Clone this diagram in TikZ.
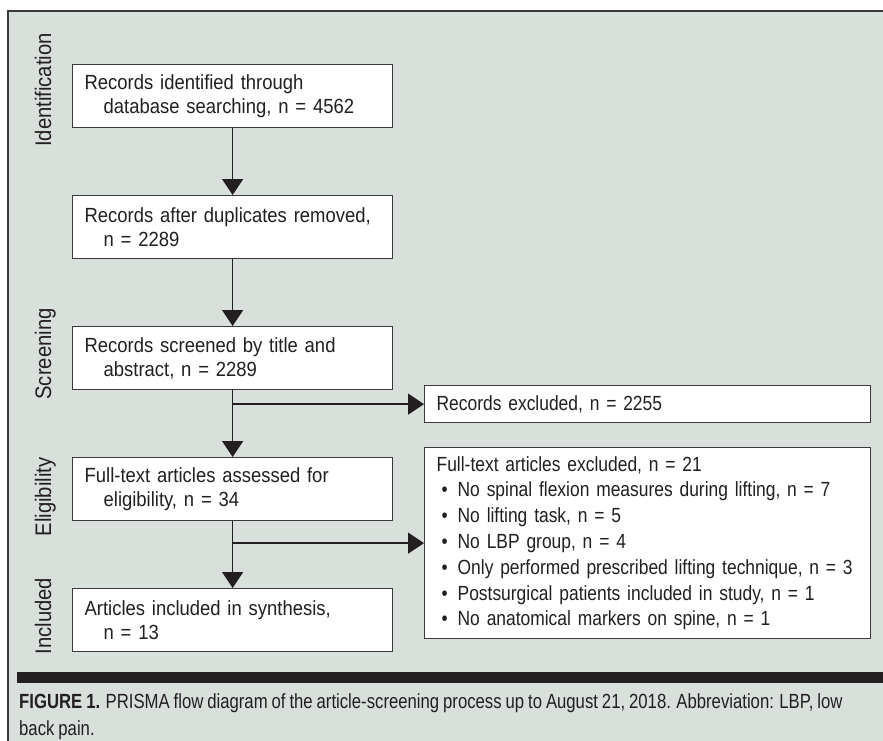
\documentclass[tikz,border=0pt]{standalone}
\usepackage{fontspec}
\setmainfont{Liberation Sans}[FakeStretch=0.9,WordSpace=0.85]
\newfontfamily\listfont{Liberation Sans}[FakeStretch=0.85,WordSpace=0.8]
\newfontfamily\capfont{Liberation Sans}[FakeStretch=0.815,WordSpace=0.85]
\usetikzlibrary{arrows.meta,positioning,calc}
\definecolor{panel}{HTML}{D9E0DC}
\definecolor{ink}{HTML}{231F20}
\definecolor{edge}{HTML}{3A3A3A}
\tikzset{
  >={Triangle[length=16pt,width=21pt]},
  box/.style={draw=edge,line width=1.3pt,fill=white,text=ink,align=left,inner xsep=12pt,inner ysep=0pt,anchor=north west,font=\fontsize{20.5}{24.5}\selectfont},
  lbox/.style={box,text width=296pt,minimum height=63pt},
  rbox/.style={box,text width=422pt,font=\listfont\fontsize{20.5}{25.8}\selectfont},
  phase/.style={rotate=90,anchor=base,text=ink,font=\fontsize{22.5}{25}\selectfont},
  arr/.style={->,draw=ink,line width=1.4pt},
}
\newcommand{\ind}{\hspace*{19pt}}
\newcommand{\itm}[1]{\makebox[21pt][l]{\hspace{5pt}\textbullet}#1}

\begin{document}
\begin{tikzpicture}[x=1pt,y=-1pt]
\useasboundingbox (0,0) rectangle (883,741);
% panel
\fill[panel] (8,11) rectangle (883,741);
\draw[edge,line width=1.6pt] (8,741) -- (8,11) -- (883,11);

% phases
\node[phase] (pid) at (51,90) {Identification};
\node[phase] (psc) at (51,354) {Screening};
\node[phase] (pel) at (51,497) {Eligibility};
\node[phase] (pin) at (51,616) {Included};

% main column
\node[lbox] (ident) at (72,64) {Records identified through\\\ind database searching, n = 4562};
\node[lbox] (dedup) at (72,195) {Records after duplicates removed,\\\ind n = 2289};
\node[lbox] (screen) at (72,326) {Records screened by title and\\\ind abstract, n = 2289};
\node[lbox] (elig) at (72,457) {Full-text articles assessed for\\\ind eligibility, n = 34};
\node[lbox] (incl) at (72,588) {Articles included in synthesis,\\\ind n = 13};

% exclusions
\node[rbox,minimum height=37pt] (exrec) at (424,385) {Records excluded, n = 2255};
\node[rbox,minimum height=191pt] (exft) at (424,447) {Full-text articles excluded, n = 21\\
\itm{No spinal flexion measures during lifting, n = 7}\\
\itm{No lifting task, n = 5}\\
\itm{No LBP group, n = 4}\\
\itm{Only performed prescribed lifting technique, n = 3}\\
\itm{Postsurgical patients included in study, n = 1}\\
\itm{No anatomical markers on spine, n = 1}};

\draw[arr] (ident.south) -- (dedup.north);
\draw[arr] (dedup.south) -- (screen.north);
\draw[arr] (screen.south) -- (elig.north);
\draw[arr] (screen.south |- exrec.west) -- (exrec.west);
\draw[arr] (elig.south) -- (incl.north);
\draw[arr] (elig.south |- exft.west) -- (exft.west);

% caption
\fill[ink] (17,672) rectangle (883,683);
\node[anchor=base west,align=left,inner sep=0pt,text=ink,font=\capfont\fontsize{20.5}{27}\selectfont] (cap) at (19,735)
  {\textbf{FIGURE 1.} PRISMA flow diagram of the article-screening process up to August 21, 2018. Abbreviation: LBP, low\\back pain.};
\end{tikzpicture}
\end{document}
